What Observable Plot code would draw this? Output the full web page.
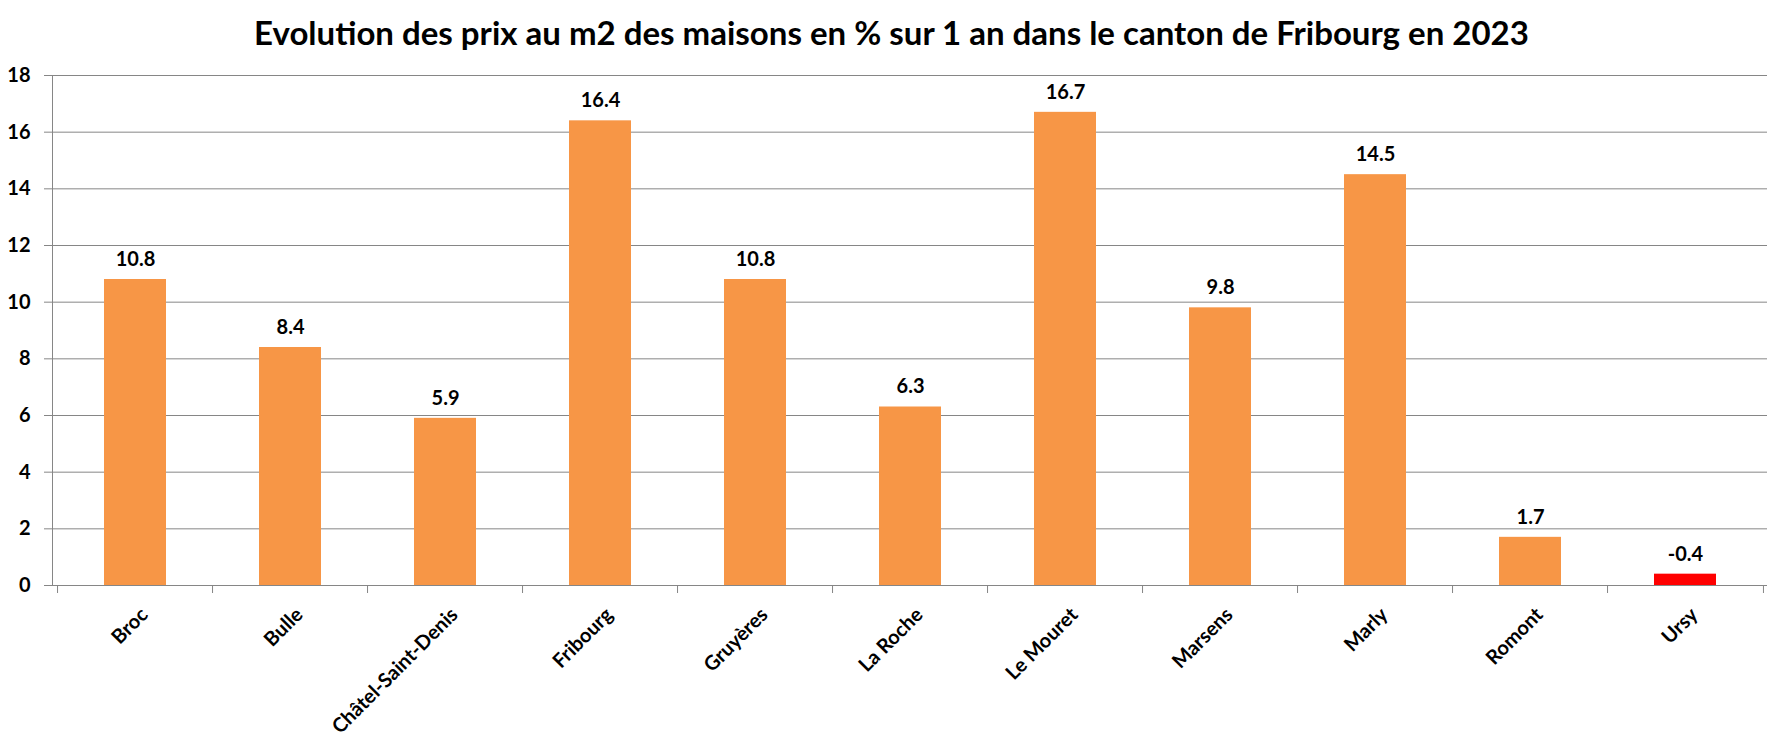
<!DOCTYPE html>
<html>
<head>
<meta charset="utf-8">
<script src="https://cdn.jsdelivr.net/npm/d3@7"></script>
<script src="https://cdn.jsdelivr.net/npm/@observablehq/plot@0.6"></script>
<style>
  html, body { margin: 0; padding: 0; background: #fff; }
  #title { height: 60px; line-height: 64px; text-align: center; font-family: Lato, "Open Sans", sans-serif; font-weight: bold; font-size: 33px; color: #000; width: 1783px; white-space: nowrap; }
  #chart svg { display: block; }
</style>
</head>
<body>
<div id="title"></div>
<div id="chart"></div>
<script>
const titleText = "Evolution des prix au m2 des maisons en % sur 1 an dans le canton de Fribourg en 2023";
const categories = ["Broc", "Bulle", "Châtel-Saint-Denis", "Fribourg", "Gruyères", "La Roche", "Le Mouret", "Marsens", "Marly", "Romont", "Ursy"];
const values = [10.8, 8.4, 5.9, 16.4, 10.8, 6.3, 16.7, 9.8, 14.5, 1.7, -0.4];
const yTicks = [0, 2, 4, 6, 8, 10, 12, 14, 16, 18];

document.getElementById("title").textContent = titleText;

const data = categories.map((name, i) => ({name, value: values[i]}));

const W = 1783, H = 680;
const mL = 52, mR = 16, mT = 15, mB = 155;
const step = (W - mL - mR) / categories.length;
const grey = "#868686";
const font = "Lato, 'Open Sans', sans-serif";

const chart = Plot.plot({
  width: W,
  height: H,
  marginLeft: mL,
  marginRight: mR,
  marginTop: mT,
  marginBottom: mB,
  style: {fontFamily: font, color: "#000", background: "#fff"},
  x: {domain: categories, paddingInner: 0.6, paddingOuter: 0.3, axis: null},
  y: {domain: [0, 18], axis: null},
  marks: [
    Plot.gridY(yTicks, {stroke: grey, strokeOpacity: 1, strokeWidth: 1}),
    Plot.frame({anchor: "left", stroke: grey}),
    Plot.axisY(yTicks, {anchor: "left", label: null, tickSize: 8, tickPadding: 14, stroke: grey, fontSize: 20, fontWeight: "bold", fill: "#000", tickFormat: d => String(d)}),
    Plot.barY(data, {filter: d => d.value >= 0, x: "name", y1: 0, y2: "value", fill: "#F79646"}),
    Plot.barY(data, {filter: d => d.value < 0, x: "name", y1: 0, y2: d => Math.abs(d.value), fill: "#FF0000"}),
    Plot.ruleY([0], {stroke: grey}),
    Plot.axisX(categories, {anchor: "bottom", label: null, tickSize: 8, text: null, stroke: grey, dx: -step / 2}),
    Plot.axisX([categories[categories.length - 1]], {anchor: "bottom", label: null, tickSize: 8, text: null, stroke: grey, dx: step / 2}),
    Plot.axisX(categories, {anchor: "bottom", label: null, tickSize: 0, tickPadding: 26, tickRotate: -45, textAnchor: "end", fontSize: 20, fontWeight: "bold", fill: "#000", dx: 9}),
    Plot.text(data, {x: "name", y: d => Math.abs(d.value), text: d => d.value.toFixed(1), dy: -20, fontSize: 20, fontWeight: "bold", fill: "#000"})
  ]
});
document.getElementById("chart").appendChild(chart);
</script>
</body>
</html>
